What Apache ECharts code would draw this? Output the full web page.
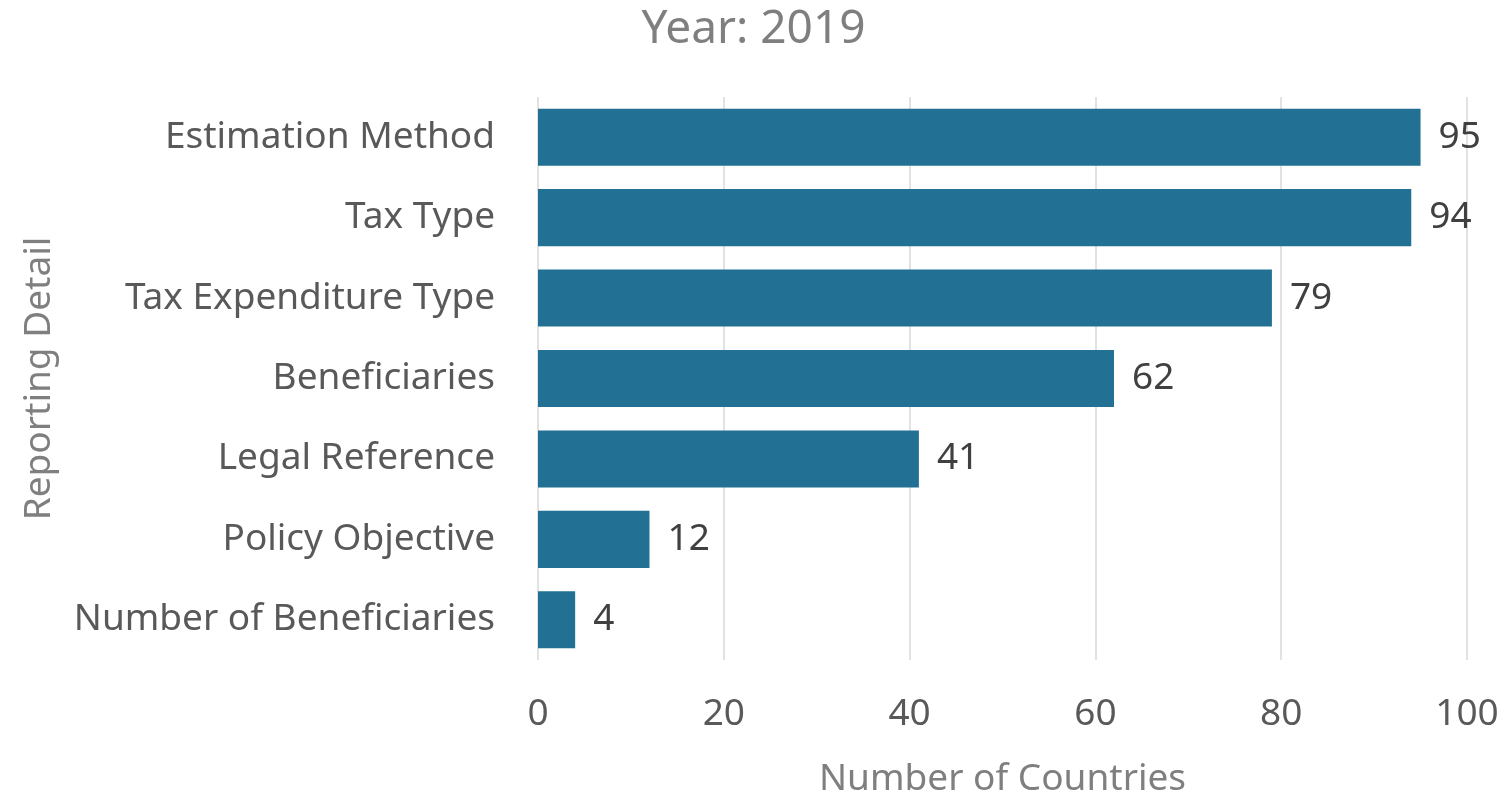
<!DOCTYPE html>
<html><head><meta charset="utf-8">
<script src="https://cdn.jsdelivr.net/npm/echarts@6/dist/echarts.min.js"></script>
<style>html,body{margin:0;padding:0;background:#fff;overflow:hidden}#c{width:100vw;height:100vh}</style>
</head><body><div id="c"></div>
<script>
const categories = ["Estimation Method","Tax Type","Tax Expenditure Type","Beneficiaries","Legal Reference","Policy Objective","Number of Beneficiaries"];
const values = [95,94,79,62,41,12,4];
const xTicks = [0,20,40,60,80,100];
const FONT = "Noto Sans";
const chart = echarts.init(document.getElementById('c'));
chart.setOption({
  animation:false,
  title:{text:"Year: 2019",left:'center',top:2,textStyle:{fontFamily:FONT,fontSize:46,fontWeight:'normal',color:'#7f7f7f'}},
  grid:{left:538,right:40,top:97,bottom:129,containLabel:false},
  xAxis:{type:'value',min:xTicks[0],max:xTicks[xTicks.length-1],interval:20,
    name:"Number of Countries",nameLocation:'middle',nameGap:101,
    nameTextStyle:{fontFamily:FONT,fontSize:37,color:'#7f7f7f'},
    axisLine:{show:false},axisTick:{show:false},
    axisLabel:{fontFamily:FONT,fontSize:37,color:'#595959',margin:36},
    splitLine:{lineStyle:{color:'#d9d9d9',width:1.5}}},
  yAxis:{type:'category',data:categories,inverse:true,
    name:"Reporting Detail",nameLocation:'middle',nameGap:480,nameRotate:90,
    nameTextStyle:{fontFamily:FONT,fontSize:37,color:'#7f7f7f'},
    axisLine:{show:false},axisTick:{show:false},
    axisLabel:{fontFamily:FONT,fontSize:37,color:'#595959',margin:43}},
  series:[{type:'bar',data:values,barCategoryGap:'29%',
    itemStyle:{color:'#227093'},
    label:{show:true,position:'right',distance:18,fontFamily:FONT,fontSize:37,color:'#404040'}}]
});
</script></body></html>
